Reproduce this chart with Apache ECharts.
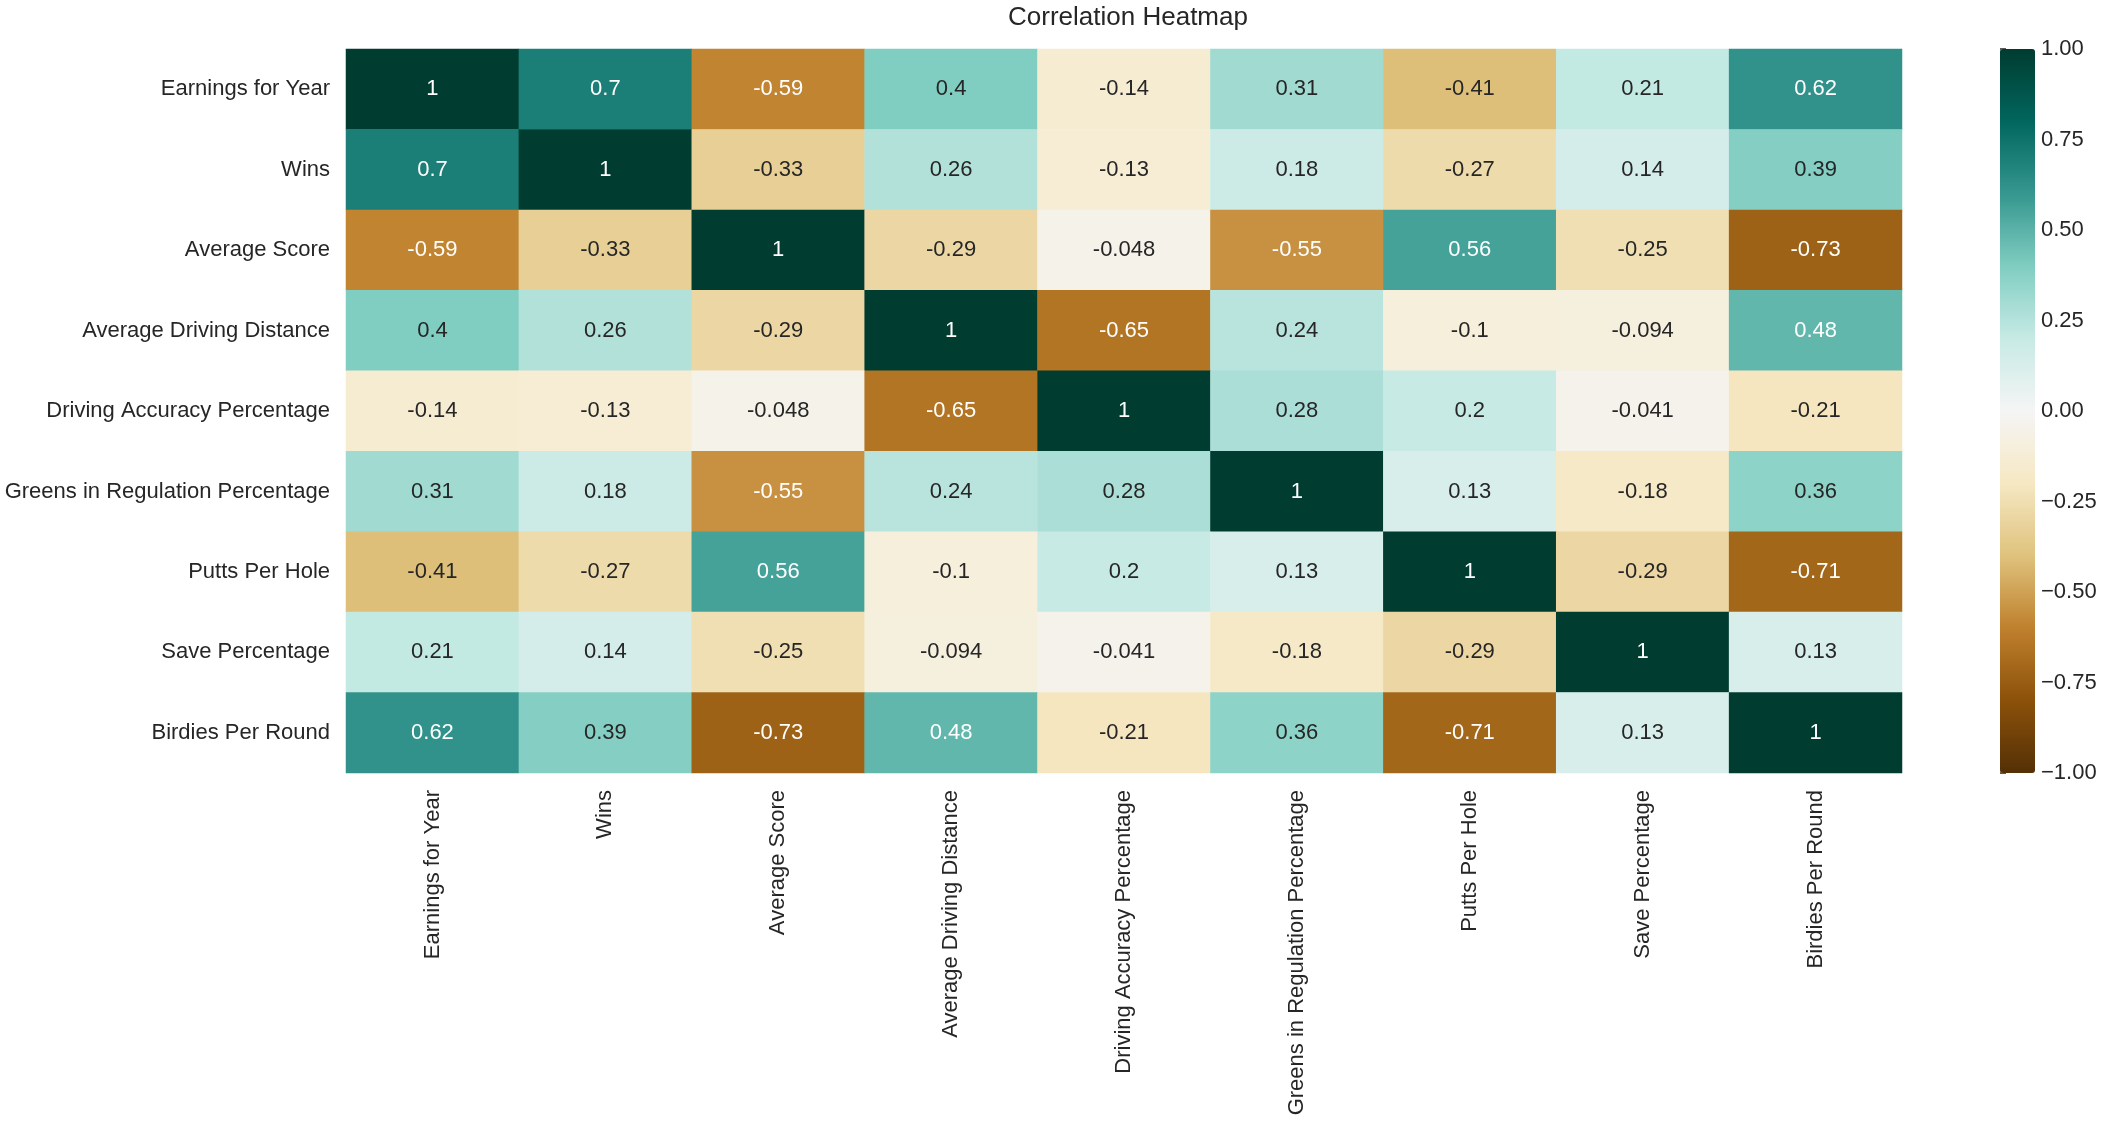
<!DOCTYPE html>
<html><head><meta charset="utf-8">
<script src="https://cdn.jsdelivr.net/npm/echarts@6/dist/echarts.min.js"></script>
<style>html,body{margin:0;padding:0;background:#fff}#c{width:2126px;height:1121px}</style>
</head><body><div id="c"></div>
<script>
const categories = ["Earnings for Year","Wins","Average Score","Average Driving Distance","Driving Accuracy Percentage","Greens in Regulation Percentage","Putts Per Hole","Save Percentage","Birdies Per Round"];
const rowEarnings = [1, 0.7, -0.59, 0.4, -0.14, 0.31, -0.41, 0.21, 0.62];
const rowWins = [0.7, 1, -0.33, 0.26, -0.13, 0.18, -0.27, 0.14, 0.39];
const rowAvgScore = [-0.59, -0.33, 1, -0.29, -0.048, -0.55, 0.56, -0.25, -0.73];
const rowDrivingDist = [0.4, 0.26, -0.29, 1, -0.65, 0.24, -0.1, -0.094, 0.48];
const rowDrivingAcc = [-0.14, -0.13, -0.048, -0.65, 1, 0.28, 0.2, -0.041, -0.21];
const rowGIR = [0.31, 0.18, -0.55, 0.24, 0.28, 1, 0.13, -0.18, 0.36];
const rowPutts = [-0.41, -0.27, 0.56, -0.1, 0.2, 0.13, 1, -0.29, -0.71];
const rowSave = [0.21, 0.14, -0.25, -0.094, -0.041, -0.18, -0.29, 1, 0.13];
const rowBirdies = [0.62, 0.39, -0.73, 0.48, -0.21, 0.36, -0.71, 0.13, 1];
const matrix = [rowEarnings,rowWins,rowAvgScore,rowDrivingDist,rowDrivingAcc,rowGIR,rowPutts,rowSave,rowBirdies];
const colorbarTicks = [-1, -0.75, -0.5, -0.25, 0, 0.25, 0.5, 0.75, 1];

const FONT = 'Arial, "Liberation Sans", sans-serif';
const TXT = '#262626';
const data = [];
matrix.forEach((row, y) => row.forEach((v, x) => {
  data.push({value: [x, y, v], label: {color: Math.abs(v) > 0.45 ? '#ffffff' : TXT}});
}));

const chart = echarts.init(document.getElementById('c'), null, {renderer: 'canvas'});
chart.setOption({
  backgroundColor: '#ffffff',
  animation: false,
  title: {
    text: 'Correlation Heatmap', left: 1128, top: 5, padding: 0, textAlign: 'center',
    textStyle: {fontFamily: FONT, fontSize: 26, fontWeight: 'normal', color: TXT}
  },
  grid: [
    {left: 346, right: 224, top: 49, bottom: 348},
    {left: 2000, width: 35, top: 49, bottom: 348}
  ],
  xAxis: [
    {type: 'category', data: categories, gridIndex: 0,
     axisLine: {show: false}, axisTick: {show: false}, splitLine: {show: false},
     axisLabel: {rotate: 90, margin: 17, fontFamily: FONT, fontSize: 22, color: TXT, interval: 0}},
    {type: 'value', gridIndex: 1, show: false, min: 0, max: 1}
  ],
  yAxis: [
    {type: 'category', data: categories, gridIndex: 0, inverse: true,
     axisLine: {show: false}, axisTick: {show: false}, splitLine: {show: false},
     axisLabel: {margin: 16, fontFamily: FONT, fontSize: 22, color: TXT, interval: 0}},
    {type: 'value', gridIndex: 1, position: 'right', min: colorbarTicks[0], max: colorbarTicks[colorbarTicks.length-1], interval: 0.25,
     axisLine: {show: false}, splitLine: {show: false},
     axisTick: {show: true, length: 6, lineStyle: {color: TXT, width: 1.5}},
     axisLabel: {margin: 6, fontFamily: FONT, fontSize: 22, color: TXT,
       formatter: v => (v < 0 ? '\u2212' : '') + Math.abs(v).toFixed(2)}}
  ],
  visualMap: {
    type: 'continuous', min: -1, max: 1, seriesIndex: 0, calculable: false,
    orient: 'vertical', left: 2000, top: 49, itemWidth: 35, itemHeight: 724,
    padding: 0, text: null, showLabel: false, hoverLink: false,
    inRange: {color: ['#543005','#8c510a','#bf812d','#dfc27d','#f6e8c3','#f5f5f5','#c7eae5','#80cdc1','#35978f','#01665e','#003c30']}
  },
  series: [
    {type: 'heatmap', xAxisIndex: 0, yAxisIndex: 0, data: data,
     label: {show: true, fontFamily: FONT, fontSize: 22, formatter: p => String(p.value[2])},
     itemStyle: {borderWidth: 0},
     emphasis: {disabled: true}},
    {type: 'scatter', xAxisIndex: 1, yAxisIndex: 1, data: [], silent: true}
  ]
});
</script></body></html>
